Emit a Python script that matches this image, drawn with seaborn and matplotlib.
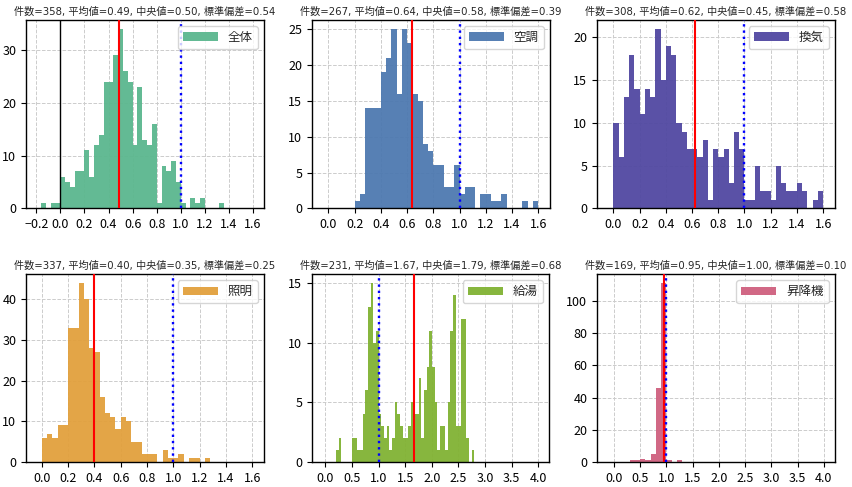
import matplotlib
matplotlib.use('Agg')
import matplotlib.pyplot as plt
import seaborn as sns
import numpy as np
import pandas as pd
from matplotlib.ticker import MultipleLocator

labels = ['全体', '空調', '換気', '照明', '給湯', '昇降機']
colors = ['#5bb78e', '#4e79b0', '#5148a1', '#e2a03d', '#81b233', '#cf607f']

n_count = [358, 267, 308, 337, 231, 169]
means = [0.49, 0.64, 0.62, 0.40, 1.67, 0.95]
medians = [0.50, 0.58, 0.45, 0.35, 1.79, 1.00]
stds = [0.54, 0.39, 0.58, 0.25, 0.68, 0.10]

# histogram bins: first edge, bin width, counts per bin
bin_start = [-0.16, 0.20, 0.00, 0.00, 0.20, 0.30]
bin_width = [0.04, 0.04, 0.04, 0.04, 0.05, 0.10]

counts_all = [1, 0, 1, 1, 6, 5, 4, 7, 7, 11, 6, 12, 14, 24, 24, 29, 34, 26, 24, 12,
              23, 13, 12, 16, 1, 8, 7, 9, 5, 1, 0, 2, 1, 2, 0, 0, 0, 1]
counts_hvac = [1, 2, 14, 14, 14, 19, 21, 25, 16, 25, 23, 16, 15, 9, 8, 6, 6, 3, 3, 6,
               2, 3, 3, 0, 2, 2, 1, 1, 2, 0, 0, 0, 1, 0, 1]
counts_vent = [10, 6, 13, 18, 14, 11, 14, 13, 21, 15, 19, 18, 10, 9, 7, 7, 6, 8, 1, 7,
               6, 7, 3, 9, 7, 1, 1, 5, 2, 2, 1, 5, 3, 2, 2, 3, 2, 0, 1, 2]
counts_light = [6, 7, 6, 9, 9, 33, 33, 44, 40, 28, 27, 16, 12, 11, 8, 11, 10, 5, 5, 2,
                2, 2, 0, 3, 1, 1, 2, 0, 1, 1, 0, 1]
counts_water = [1, 2, 0, 0, 0, 0, 2, 2, 1, 1, 4, 6, 13, 15, 10, 11, 4, 3, 2, 3,
                1, 2, 5, 4, 3, 2, 2, 3, 5, 4, 4, 7, 2, 6, 8, 11, 8, 5, 1, 3,
                3, 1, 5, 11, 14, 3, 3, 12, 12, 2, 0, 1]
counts_elev = [1, 1, 2, 1, 5, 46, 111, 1, 0, 1]
counts = [counts_all, counts_hvac, counts_vent, counts_light, counts_water, counts_elev]

ref_line = 1.0
x_limits = [(-0.285, 1.69), (-0.125, 1.69), (-0.125, 1.69), (-0.12, 1.69), (-0.25, 4.2), (-0.32, 4.21)]
x_ticks = [np.arange(-0.2, 1.61, 0.2), np.arange(0, 1.61, 0.2), np.arange(0, 1.61, 0.2),
           np.arange(0, 1.61, 0.2), np.arange(0, 4.01, 0.5), np.arange(0, 4.01, 0.5)]
y_step = [10, 5, 5, 10, 5, 20]

# axes rectangles (left, bottom, width, height) in figure fraction
axes_pos = [(0.0305, 0.572, 0.2793, 0.387), (0.3662, 0.572, 0.2793, 0.387), (0.7007, 0.572, 0.2793, 0.387),
            (0.0305, 0.0513, 0.2793, 0.386), (0.3662, 0.0513, 0.2782, 0.386), (0.7007, 0.0513, 0.2793, 0.386)]

sns.set_style('ticks')
plt.rcParams['font.family'] = ['Noto Sans CJK JP', 'DejaVu Sans']
plt.rcParams['axes.unicode_minus'] = True

fig = plt.figure(figsize=(8.52, 4.87), dpi=100)

for i in range(6):
    ax = fig.add_axes(axes_pos[i])
    n_bins = len(counts[i])
    edges = [bin_start[i] + bin_width[i] * k for k in range(n_bins + 1)]
    df = pd.DataFrame({
        'value': [(edges[k] + edges[k + 1]) / 2 for k in range(n_bins)],
        'count': counts[i],
    })
    sns.histplot(data=df, x='value', weights='count', bins=edges, color=colors[i], alpha=0.95,
                 edgecolor='none', linewidth=0, label=labels[i], ax=ax, zorder=2)
    if i == 0:
        ax.axvline(0, color='black', lw=1.0, zorder=3)
    ax.axvline(means[i], color='red', lw=1.5, zorder=4)
    ax.axvline(ref_line, color='blue', lw=1.7, linestyle=':', zorder=4)
    ax.set_xlim(*x_limits[i])
    ax.set_xticks(x_ticks[i])
    ax.set_xticklabels([f'{t:.1f}'.replace('-', '\u2212') for t in x_ticks[i]])
    ax.yaxis.set_major_locator(MultipleLocator(y_step[i]))
    ax.set_xlabel('')
    ax.set_ylabel('')
    ax.grid(True, linestyle='--', color='#cccccc', linewidth=0.7, zorder=0)
    ax.set_axisbelow(True)
    ax.tick_params(labelsize=9, length=3.5, width=0.8, colors='black')
    for s in ax.spines.values():
        s.set_color('black')
        s.set_linewidth(1.0)
        s.set_visible(True)
    # title uses DejaVu for Latin text, CJK font for the Japanese words
    ax.set_title(f'件数={n_count[i]}, 平均値={means[i]:.2f}, 中央値={medians[i]:.2f}, 標準偏差={stds[i]:.2f}',
                 fontsize=7.3, family=['DejaVu Sans', 'Noto Sans CJK JP'], pad=4)
    ax.legend(loc='upper right', handlelength=2.8,
              prop={'family': ['Noto Sans CJK JP', 'DejaVu Sans'], 'size': 9})

fig.savefig('out.png', dpi=100)
